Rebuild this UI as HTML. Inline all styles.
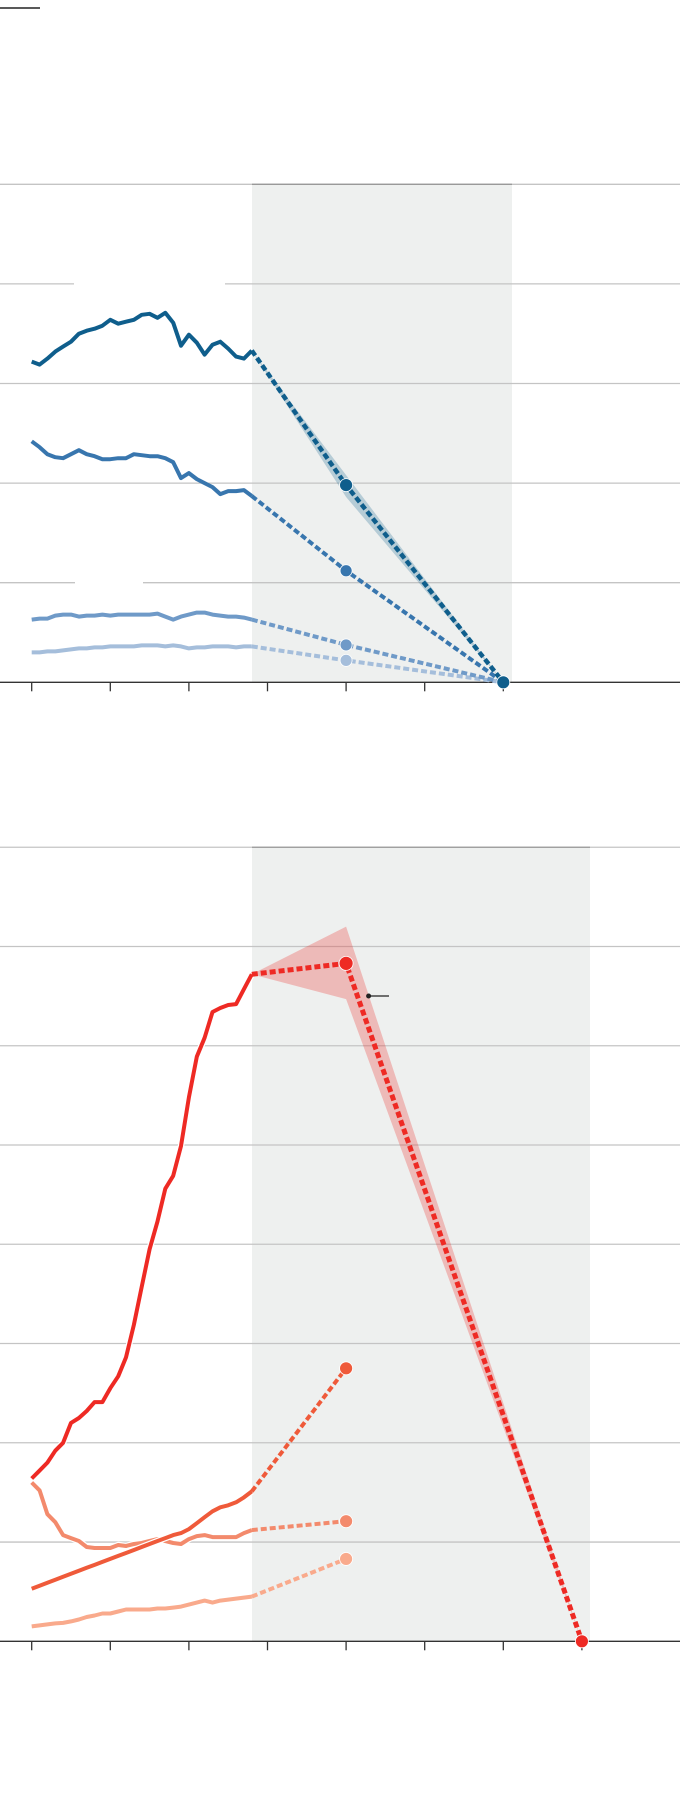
<!DOCTYPE html>
<html><head><meta charset="utf-8"><style>
html,body{margin:0;padding:0;background:#fff;}
svg{display:block;font-family:"Liberation Sans",sans-serif;}
</style></head><body>
<svg id="chart" width="680" height="1806" viewBox="0 0 680 1806">
<line x1="0" y1="8" x2="40" y2="8" stroke="#222" stroke-width="1.5"/>
</svg>
<script>
const years = [1990,1991,1992,1993,1994,1995,1996,1997,1998,1999,2000,2001,2002,2003,2004,2005,2006,2007,2008,2009,2010,2011,2012,2013,2014,2015,2016,2017,2018];
const blue1 = [3.22,3.19,3.25,3.32,3.37,3.42,3.50,3.53,3.55,3.58,3.64,3.60,3.62,3.64,3.69,3.70,3.66,3.71,3.61,3.38,3.49,3.41,3.29,3.39,3.42,3.35,3.27,3.25,3.33];
const blue2 = [2.42,2.36,2.29,2.26,2.25,2.29,2.33,2.29,2.27,2.24,2.24,2.25,2.25,2.29,2.28,2.27,2.27,2.25,2.21,2.05,2.10,2.04,2.00,1.96,1.89,1.92,1.92,1.93,1.87];
const blue3 = [0.63,0.64,0.64,0.67,0.68,0.68,0.66,0.67,0.67,0.68,0.67,0.68,0.68,0.68,0.68,0.68,0.69,0.66,0.63,0.66,0.68,0.70,0.70,0.68,0.67,0.66,0.66,0.65,0.63];
const blue4 = [0.30,0.30,0.31,0.31,0.32,0.33,0.34,0.34,0.35,0.35,0.36,0.36,0.36,0.36,0.37,0.37,0.37,0.36,0.37,0.36,0.34,0.35,0.35,0.36,0.36,0.36,0.35,0.36,0.36];
const blueProj = [1.98,1.12,0.375,0.22];
const blueEnd = [0,0,0,0];
const red1 = [1.64,1.72,1.80,1.92,2.00,2.20,2.25,2.32,2.41,2.41,2.55,2.67,2.86,3.19,3.57,3.95,4.23,4.56,4.69,4.99,5.48,5.89,6.08,6.34,6.38,6.41,6.42,6.57,6.72];
const red2 = [0.53,0.56,0.59,0.62,0.65,0.68,0.71,0.74,0.77,0.80,0.83,0.86,0.89,0.92,0.95,0.98,1.01,1.04,1.07,1.09,1.13,1.19,1.25,1.31,1.35,1.37,1.40,1.45,1.51];
const red3 = [1.60,1.52,1.28,1.20,1.07,1.04,1.01,0.95,0.94,0.94,0.94,0.97,0.96,0.98,0.99,1.01,1.03,1.01,0.99,0.98,1.03,1.06,1.07,1.05,1.05,1.05,1.05,1.09,1.12];
const red4 = [0.15,0.16,0.17,0.18,0.185,0.20,0.22,0.245,0.26,0.28,0.28,0.30,0.32,0.32,0.32,0.32,0.33,0.33,0.34,0.35,0.37,0.39,0.41,0.39,0.41,0.42,0.43,0.44,0.45];
const redProj = [6.83,2.75,1.21,0.83];
const redBandHi = 7.20, redBandLo = 6.47;
const blueBandHi = 2.08, blueBandLo = 1.86;

const NS="http://www.w3.org/2000/svg";
const svg=document.getElementById('chart');
function mk(tag,attrs,parent){const e=document.createElementNS(NS,tag);for(const k in attrs)e.setAttribute(k,attrs[k]);(parent||svg).appendChild(e);return e;}
const xS = y => 31.7 + (y-1990)*7.86;

function panel(base, unit, nGrid, shadeEnd, ticks, gaps, name){
  const yS = v => base - v*unit;
  const g=mk('g',{});
  
  
  const sh=mk('rect',{x:252,y:yS(nGrid),width:shadeEnd-252,height:nGrid*unit,fill:'#eef0ef'},g);
  
  
  for(let i=1;i<=nGrid;i++){
    const gl=mk('line',{x1:0,x2:680,y1:yS(i),y2:yS(i),stroke:'#c4c4c4','stroke-width':1.3},g);
    
    
  }
  gaps.forEach(gp=>{mk('rect',{x:gp[1],y:yS(gp[0])-2,width:gp[2]-gp[1],height:4,fill:'#fff'},g);});
  mk('line',{x1:252,x2:shadeEnd,y1:yS(nGrid),y2:yS(nGrid),stroke:'#999','stroke-width':1.3},g);
  const ax=mk('line',{x1:0,x2:680,y1:base,y2:base,stroke:'#333','stroke-width':1.3},g);
  
  
  ticks.forEach(t=>{
    const tk=mk('line',{x1:xS(t),x2:xS(t),y1:base,y2:base+9,stroke:'#333','stroke-width':1.3},g);
    
    
  });
  return {g,yS};
}
function path(g,pts,color,w,dash,name){
  const d=pts.map((p,i)=>(i?'L':'M')+p[0].toFixed(1)+' '+p[1].toFixed(1)).join(' ');
  const p=mk('path',{d,fill:'none',stroke:color,'stroke-width':w,'stroke-linejoin':'round'},g);
  if(dash)p.setAttribute('stroke-dasharray',dash);
  
  
  return p;
}
function dot(g,x,y,r,color,name){
  const c=mk('circle',{cx:x,cy:y,r,fill:color,stroke:'#fff','stroke-width':0.8},g);
  
  
}

// Top panel
const T=panel(682.3,99.6,5,512,[1990,2000,2010,2020,2030,2040,2050],[[4,74,225],[1,75,143]],'top-chart');
const bColors=['#0f5e8c','#3876ae','#6f9ac8','#a5bedb'];
const bSeries=[blue1,blue2,blue3,blue4];
{const x0=xS(2018),x1=xS(2030),x2=xS(2050);const y0=T.yS(blue1[28]);
 const b=mk('path',{d:`M${x0} ${y0} L${x1} ${T.yS(blueBandHi)} L${x2} ${T.yS(0)} L${x1} ${T.yS(blueBandLo)} Z`,fill:'#0f5e8c','fill-opacity':0.25},T.g);
 
 }
for(let s=3;s>=0;s--){
  const arr=bSeries[s];
  path(T.g,years.map((y,i)=>[xS(y),T.yS(arr[i])]),bColors[s],4,null,'blue-series-'+(s+1));
  path(T.g,[[xS(2018),T.yS(arr[28])],[xS(2030),T.yS(blueProj[s])],[xS(2050),T.yS(blueEnd[s])]],bColors[s],s==0?4.5:4,'6 3','blue-projection-'+(s+1));
  dot(T.g,xS(2030),T.yS(blueProj[s]),s==0?6.5:6,bColors[s],'blue-point-2030-'+(s+1));
}
dot(T.g,xS(2050),T.yS(0),6.5,bColors[0],'blue-point-2050');

// Bottom panel
const B=panel(1641.3,99.26,8,590,[1990,2000,2010,2020,2030,2040,2050,2060],[],'bottom-chart');
const rColors=['#ee2a24','#ef5a3a','#f38a6c','#f9aa8c'];
const rSeries=[red1,red2,red3,red4];
{const x0=xS(2018),x1=xS(2030),x2=xS(2060);const y0=B.yS(red1[28]);
 const b=mk('path',{d:`M${x0} ${y0} L${x1} ${B.yS(redBandHi)} L${x2} ${B.yS(0)} L${x1} ${B.yS(redBandLo)} Z`,fill:'#ee2a24','fill-opacity':0.27},B.g);
 
 }
for(let s=3;s>=0;s--){
  const arr=rSeries[s];
  path(B.g,years.map((y,i)=>[xS(y),B.yS(arr[i])]),'#fff',6.5,null,'series-halo');
  path(B.g,years.map((y,i)=>[xS(y),B.yS(arr[i])]),rColors[s],4,null,'red-series-'+(s+1));
  const pts=[[xS(2018),B.yS(arr[28])],[xS(2030),B.yS(redProj[s])]];
  if(s==0)pts.push([xS(2060),B.yS(0)]);
  path(B.g,pts,rColors[s],s==0?5:4,'6 3','red-projection-'+(s+1));
  dot(B.g,xS(2030),B.yS(redProj[s]),s==0?7:6.5,rColors[s],'red-point-2030-'+(s+1));
}
dot(B.g,xS(2060),B.yS(0),6.5,rColors[0],'red-point-2060');
mk('circle',{cx:368.6,cy:996,r:2.5,fill:'#222'},B.g);
const an=mk('line',{x1:368.6,x2:389,y1:996,y2:996,stroke:'#222','stroke-width':1.3},B.g);


</script>
</body></html>
